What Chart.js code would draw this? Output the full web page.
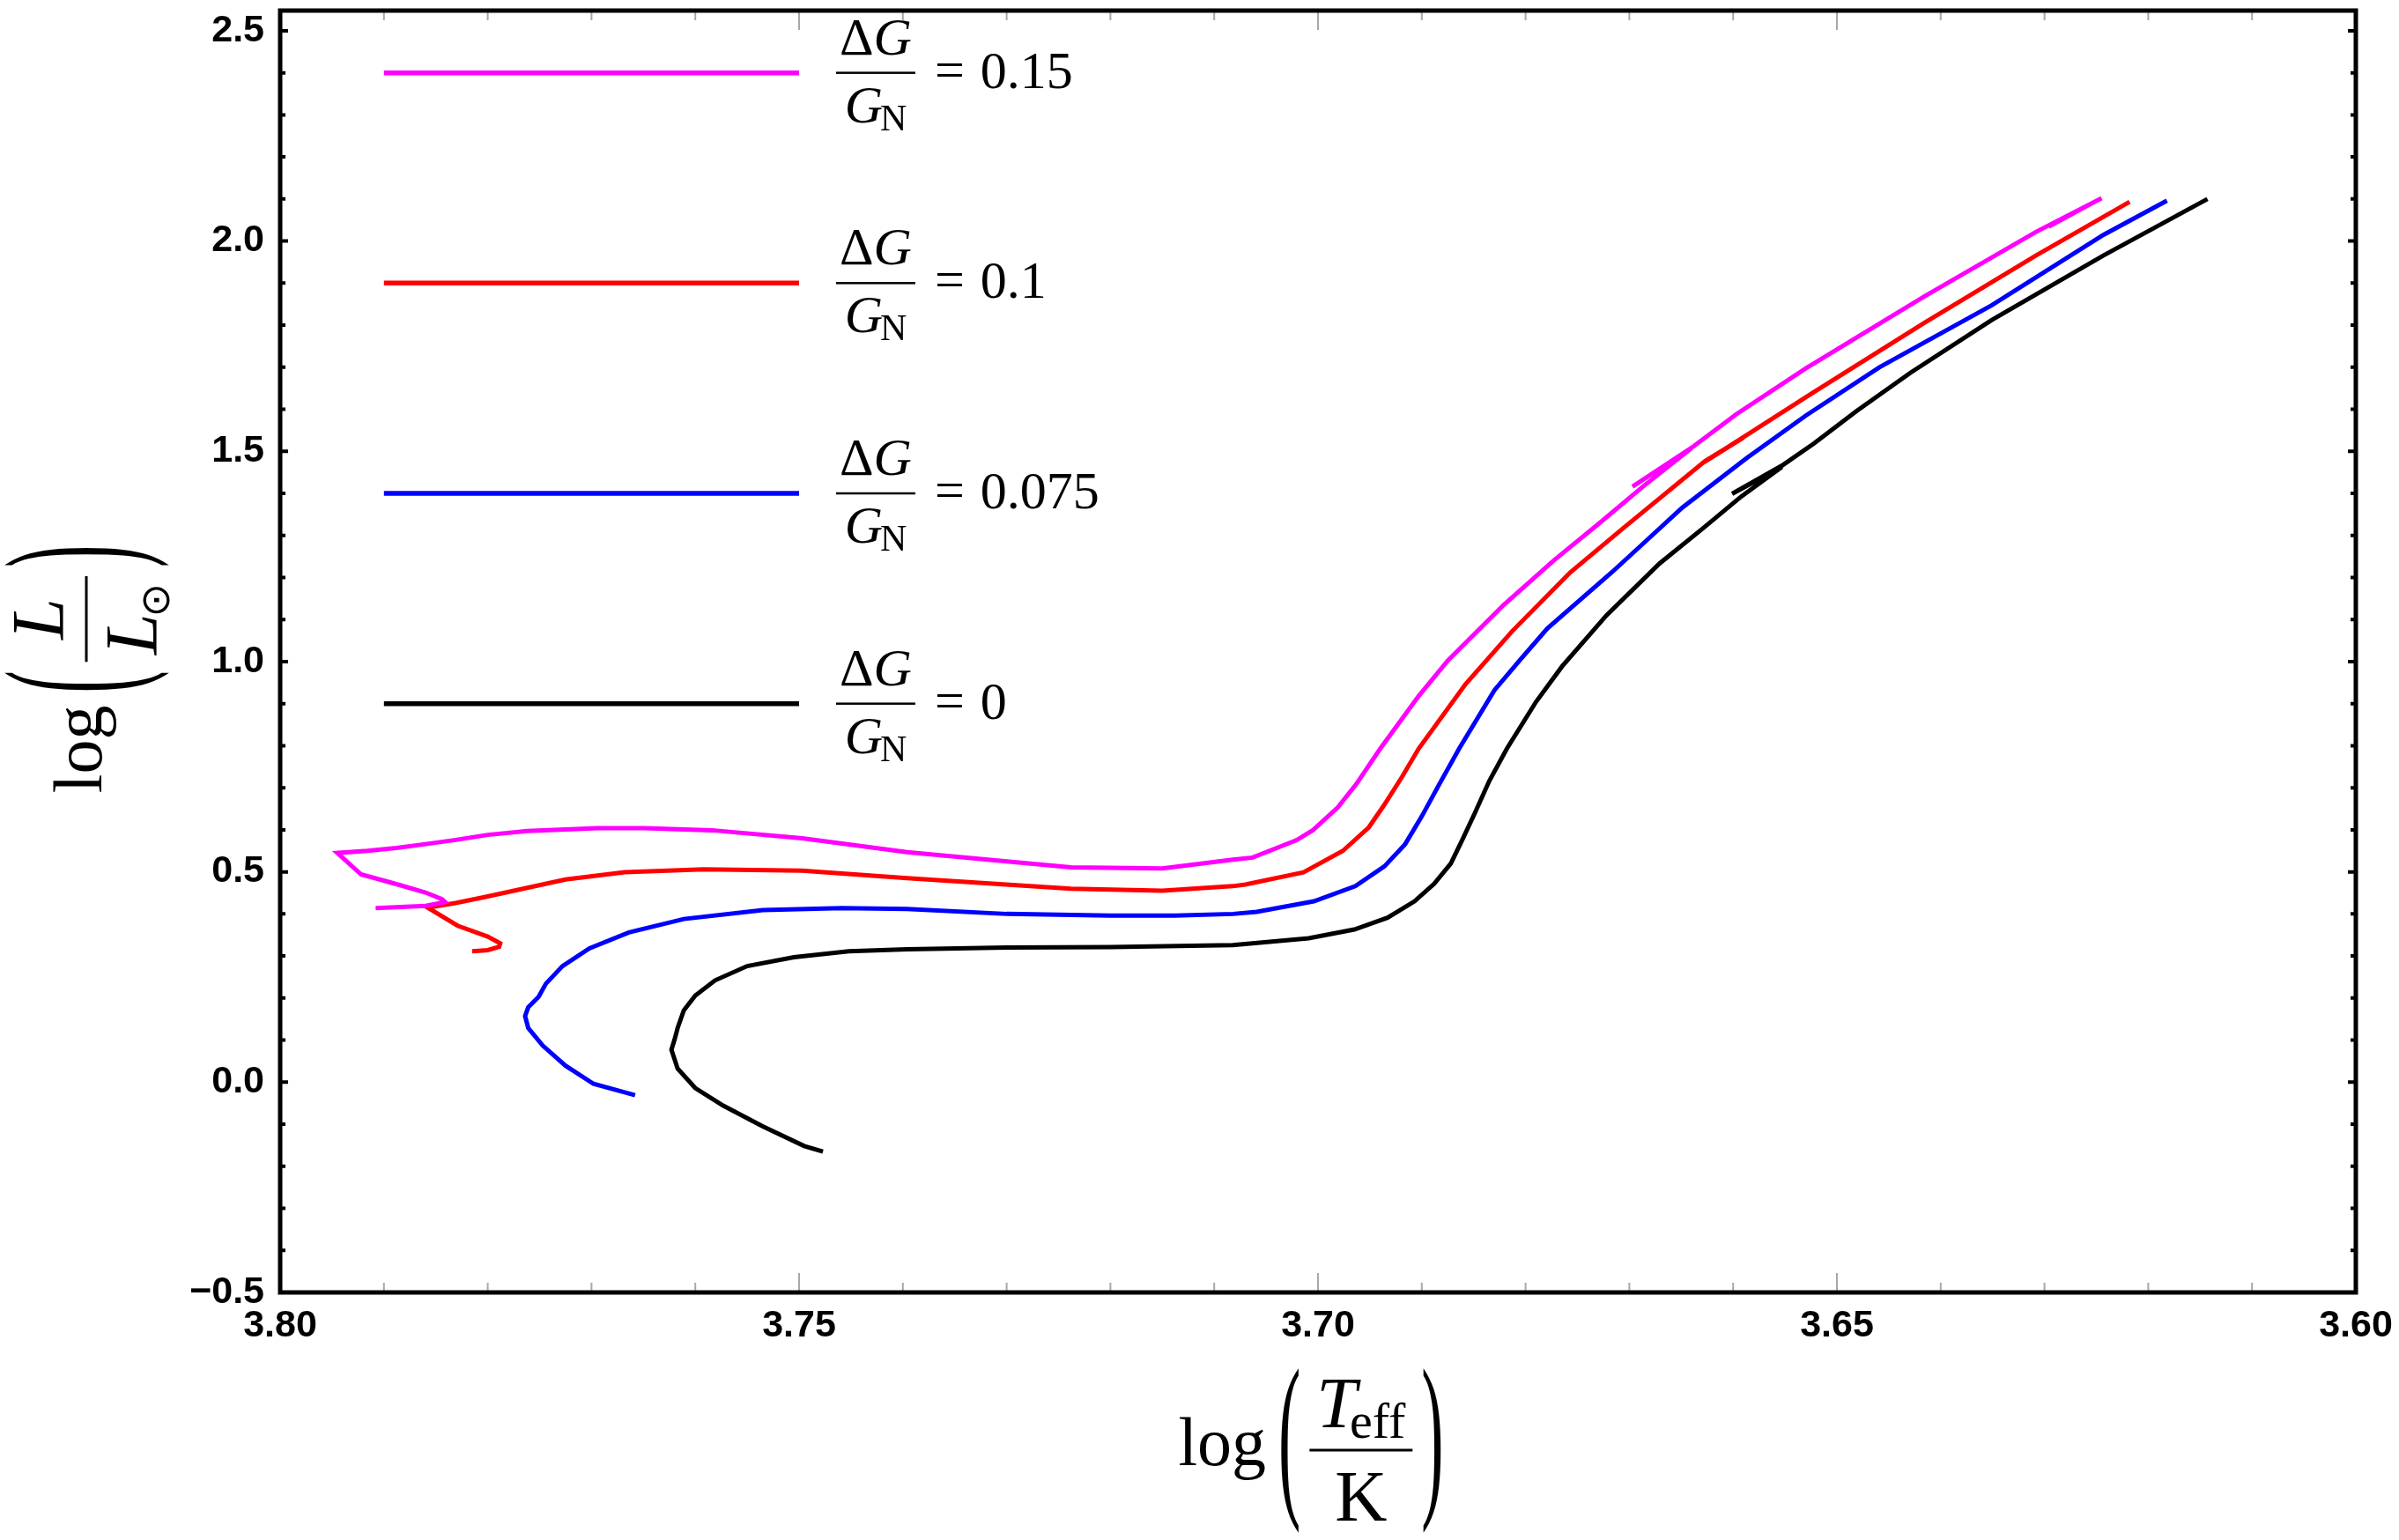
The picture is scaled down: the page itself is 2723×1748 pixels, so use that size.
<!DOCTYPE html>
<html>
<head>
<meta charset="utf-8">
<script src="https://cdn.jsdelivr.net/npm/chart.js@4.4.1/dist/chart.umd.min.js"></script>
<style>
  html, body { margin: 0; padding: 0; background: #fff; }
  canvas { display: block; }
</style>
</head>
<body>
<canvas id="hrChart" width="2723" height="1748"></canvas>
<script>
// tick labels
const xTicks = [3.80, 3.75, 3.70, 3.65, 3.60];
const yTicks = [-0.5, 0.0, 0.5, 1.0, 1.5, 2.0, 2.5];

// legend entries (dG/G_N) and colours, top to bottom
const dgLabels = ['0.15', '0.1', '0.075', '0'];
const dgColors = ['#ff00ff', '#ff0000', '#0000ff', '#000000'];

// dG/G_N = 0.15
const teff015 = [3.7908, 3.7860, 3.7841, 3.7844, 3.7860, 3.7888, 3.7922, 3.7945, 3.7916, 3.7888,
  3.7860, 3.7831, 3.7800, 3.7762, 3.7694, 3.7649, 3.7584, 3.7497, 3.7396, 3.7238,
  3.7150, 3.7082, 3.7063, 3.7021, 3.7005, 3.6981, 3.6963, 3.6940, 3.6903, 3.6875,
  3.6821, 3.6773, 3.6728, 3.6688, 3.6640, 3.6697, 3.6638, 3.6597, 3.6530,
  3.6416, 3.6308, 3.6245, 3.6296];
const lum015 = [0.414, 0.419, 0.428, 0.435, 0.451, 0.471, 0.494, 0.545, 0.550, 0.557,
  0.566, 0.576, 0.588, 0.597, 0.604, 0.604, 0.599, 0.580, 0.547, 0.511,
  0.508, 0.529, 0.534, 0.575, 0.599, 0.653, 0.709, 0.793, 0.918, 1.002,
  1.135, 1.240, 1.331, 1.414, 1.508, 1.416, 1.512, 1.588, 1.697,
  1.868, 2.022, 2.102, 2.034];

// dG/G_N = 0.1
const teff01 = [3.7815, 3.7800, 3.7789, 3.7788, 3.7800, 3.7829, 3.7858, 3.7831, 3.7803, 3.7725,
  3.7668, 3.7592, 3.7497, 3.7396, 3.7238, 3.7150, 3.7082, 3.7070, 3.7014, 3.6976,
  3.6951, 3.6936, 3.6919, 3.6903, 3.6858, 3.6813, 3.6757, 3.6706, 3.6627, 3.6590,
  3.6628, 3.6588, 3.6524, 3.6416, 3.6308, 3.6218];
const lum01 = [0.311, 0.314, 0.322, 0.330, 0.346, 0.372, 0.415, 0.426, 0.440, 0.482,
  0.499, 0.506, 0.503, 0.485, 0.460, 0.455, 0.466, 0.470, 0.499, 0.550,
  0.606, 0.660, 0.726, 0.793, 0.946, 1.072, 1.212, 1.317, 1.477, 1.533,
  1.474, 1.537, 1.638, 1.805, 1.966, 2.093];

// dG/G_N = 0.075
const teff0075 = [3.7658, 3.7698, 3.7725, 3.7747, 3.7761, 3.7764, 3.7761, 3.7751, 3.7744, 3.7728,
  3.7702, 3.7664, 3.7611, 3.7535, 3.7459, 3.7396, 3.7300, 3.7200, 3.7138, 3.7082,
  3.7059, 3.7004, 3.6964, 3.6936, 3.6916, 3.6900, 3.6883, 3.6864, 3.6830, 3.6805,
  3.6779, 3.6717, 3.6683, 3.6649, 3.6587, 3.6530, 3.6459, 3.6351, 3.6243, 3.6182];
const lum0075 = [-0.031, -0.004, 0.039, 0.087, 0.129, 0.157, 0.178, 0.203, 0.234, 0.276,
  0.318, 0.356, 0.388, 0.409, 0.414, 0.412, 0.400, 0.396, 0.396, 0.400,
  0.405, 0.430, 0.466, 0.513, 0.566, 0.632, 0.709, 0.793, 0.932, 1.005,
  1.079, 1.212, 1.289, 1.366, 1.484, 1.585, 1.700, 1.847, 2.015, 2.096];

// dG/G_N = 0
const teff0 = [3.7477, 3.7495, 3.7535, 3.7573, 3.7600, 3.7617, 3.7623, 3.7620, 3.7617, 3.7611,
  3.7600, 3.7581, 3.7550, 3.7505, 3.7452, 3.7396, 3.7300, 3.7200, 3.7082, 3.7009,
  3.6965, 3.6933, 3.6907, 3.6888, 3.6872, 3.6861, 3.6849, 3.6835, 3.6818, 3.6790,
  3.6765, 3.6722, 3.6671, 3.6629, 3.6592, 3.6553, 3.6601, 3.6553, 3.6522, 3.6481,
  3.6429, 3.6351, 3.6243, 3.6143];
const lum0 = [-0.165, -0.152, -0.105, -0.056, -0.014, 0.032, 0.077, 0.101, 0.129, 0.171,
  0.206, 0.242, 0.276, 0.297, 0.311, 0.316, 0.320, 0.321, 0.326, 0.342,
  0.363, 0.391, 0.430, 0.472, 0.520, 0.576, 0.639, 0.716, 0.793, 0.904,
  0.988, 1.110, 1.233, 1.317, 1.393, 1.463, 1.399, 1.466, 1.519, 1.596,
  1.687, 1.812, 1.966, 2.100];

const tracks = [[teff015, lum015], [teff01, lum01], [teff0075, lum0075], [teff0, lum0]];

const serif = '"Liberation Serif", "DejaVu Serif", serif';
const it = s => 'italic ' + s + 'px ' + serif;
const rm = s => s + 'px ' + serif;

function runsWidth(ctx, runs) {
    let w = 0;
    for (const r of runs) {
        ctx.font = r.font;
        w += ctx.measureText(r.t).width + (r.kern || 0);
    }
    return w;
}

function drawRuns(ctx, runs, x, y) {
    for (const r of runs) {
        ctx.font = r.font;
        ctx.fillText(r.t, x, y + (r.dy || 0));
        x += ctx.measureText(r.t).width + (r.kern || 0);
    }
    return x;
}

function fracWidth(ctx, num, den, pad) {
    return Math.max(runsWidth(ctx, num), runsWidth(ctx, den)) + 2 * pad;
}

function drawFraction(ctx, num, den, left, numBase, denBase, pad, barH) {
    const wn = runsWidth(ctx, num);
    const wd = runsWidth(ctx, den);
    const w = Math.max(wn, wd) + 2 * pad;
    ctx.fillRect(left, -barH / 2, w, barH);
    drawRuns(ctx, num, left + (w - wn) / 2, numBase);
    drawRuns(ctx, den, left + (w - wd) / 2, denBase);
    return w;
}

function drawParen(ctx, ch, x, scaleY) {
    ctx.save();
    ctx.font = rm(76);
    ctx.textBaseline = 'middle';
    ctx.translate(x, -4);
    ctx.scale(1, scaleY);
    ctx.fillText(ch, 0, 0);
    ctx.restore();
}

// log( num / den ) laid out around the fraction bar, centred on (cx, cy)
function drawLogTitle(ctx, cx, cy, angle, num, den) {
    ctx.save();
    ctx.translate(cx, cy);
    ctx.rotate(angle);
    ctx.fillStyle = '#000';
    ctx.textAlign = 'left';
    ctx.textBaseline = 'alphabetic';
    ctx.font = rm(78);
    const logW = ctx.measureText('log').width;
    ctx.font = rm(76);
    const parW = ctx.measureText('(').width;
    const fw = fracWidth(ctx, num, den, 8);
    const gapLog = 14, gapPar = 10;
    const total = logW + gapLog + parW + gapPar + fw + gapPar + parW;
    let x = -total / 2;
    ctx.font = rm(78);
    ctx.fillText('log', x, 17);
    x += logW + gapLog;
    drawParen(ctx, '(', x, 2.7);
    x += parW + gapPar;
    x += drawFraction(ctx, num, den, x, -26, 80, 8, 3);
    x += gapPar;
    drawParen(ctx, ')', x, 2.7);
    ctx.restore();
}

const decorations = {
    id: 'decorations',
    afterDatasetsDraw(chart) {
        const { ctx, chartArea: a, scales: { x, y } } = chart;
        ctx.save();
        // x ticks on bottom and top (inside the frame)
        ctx.strokeStyle = '#a8a8a8';
        ctx.lineWidth = 2;
        for (let i = 0; i <= 20; i++) {
            const px = x.getPixelForValue(3.60 + i / 100);
            const len = i % 5 === 0 ? 22 : 11;
            ctx.beginPath();
            ctx.moveTo(px, a.bottom);
            ctx.lineTo(px, a.bottom - len);
            ctx.moveTo(px, a.top);
            ctx.lineTo(px, a.top + len);
            ctx.stroke();
        }
        // y ticks on left and right
        ctx.strokeStyle = '#000';
        ctx.lineWidth = 4;
        for (let i = -5; i <= 25; i++) {
            const py = y.getPixelForValue(i / 10);
            const len = i % 5 === 0 ? 9 : 6;
            ctx.beginPath();
            ctx.moveTo(a.left, py);
            ctx.lineTo(a.left + len, py);
            ctx.moveTo(a.right, py);
            ctx.lineTo(a.right - len, py);
            ctx.stroke();
        }
        // frame
        ctx.lineWidth = 5;
        ctx.strokeRect(a.left, a.top, a.right - a.left, a.bottom - a.top);
        ctx.restore();
    },
    afterDraw(chart) {
        const { ctx, chartArea: a, scales: { x, y } } = chart;

        // legend: lines placed in data space, text to the right
        ctx.save();
        const legendY = [2.4, 1.9, 1.4, 0.9];
        const x0 = x.getPixelForValue(3.79);
        const x1 = x.getPixelForValue(3.75);
        dgLabels.forEach((lab, i) => {
            const py = y.getPixelForValue(legendY[i]);
            ctx.strokeStyle = dgColors[i];
            ctx.lineWidth = 5.5;
            ctx.beginPath();
            ctx.moveTo(x0, py);
            ctx.lineTo(x1, py);
            ctx.stroke();

            ctx.save();
            ctx.translate(x1 + 42, py);
            ctx.fillStyle = '#000';
            ctx.textAlign = 'left';
            ctx.textBaseline = 'alphabetic';
            const num = [{ t: '\u0394', font: rm(60) }, { t: 'G', font: it(60) }];
            const den = [{ t: 'G', font: it(60), kern: -3 }, { t: 'N', font: rm(42), dy: 9 }];
            const w = drawFraction(ctx, num, den, 0, -21, 56, 4, 2.5);
            ctx.font = rm(60);
            ctx.fillText('=', w + 22, 16);
            const eqW = ctx.measureText('=').width;
            ctx.fillText(lab, w + 22 + eqW + 18, 17);
            ctx.restore();
        });
        ctx.restore();

        // axis titles
        const midX = (a.left + a.right) / 2;
        const midY = (a.top + a.bottom) / 2;
        drawLogTitle(ctx, midX - 8, a.bottom + 179, 0,
            [{ t: 'T', font: it(82), kern: -8 }, { t: 'eff', font: rm(58), dy: 12 }],
            [{ t: 'K', font: rm(82) }]);
        drawLogTitle(ctx, 98, midY + 20, -Math.PI / 2,
            [{ t: 'L', font: it(84) }],
            [{ t: 'L', font: it(84), kern: -4 }, { t: '\u2299', font: '46px "DejaVu Sans", sans-serif', dy: 14 }]);
    }
};

const ctx = document.getElementById('hrChart').getContext('2d');

new Chart(ctx, {
    type: 'scatter',
    data: {
        datasets: tracks.map(([tx, ly], i) => ({
            label: dgLabels[i],
            data: tx.map((v, k) => ({ x: v, y: ly[k] })),
            showLine: true,
            borderColor: dgColors[i],
            backgroundColor: dgColors[i],
            borderWidth: 5,
            pointRadius: 0,
            tension: 0,
        }))
    },
    options: {
        responsive: false,
        devicePixelRatio: 1,
        animation: false,
        layout: { padding: { top: 12, right: 49, left: 0, bottom: 0 } },
        plugins: {
            legend: { display: false },
            tooltip: { enabled: false },
        },
        scales: {
            x: {
                type: 'linear',
                reverse: true,
                min: 3.60,
                max: 3.80,
                afterBuildTicks: s => { s.ticks = xTicks.map(v => ({ value: v })); },
                afterFit: s => { s.height = 281; s.paddingLeft = 0; s.paddingRight = 0; },
                grid: { display: false, drawTicks: false },
                border: { display: false },
                ticks: {
                    color: '#000',
                    font: { family: '"Liberation Sans", Arial, sans-serif', size: 43, weight: 'bold' },
                    padding: 12,
                    maxRotation: 0,
                    autoSkip: false,
                    callback: v => v.toFixed(2),
                },
            },
            y: {
                type: 'linear',
                min: -0.5,
                max: 2.548,
                afterBuildTicks: s => { s.ticks = yTicks.map(v => ({ value: v })); },
                afterFit: s => { s.width = 318; s.paddingTop = 0; s.paddingBottom = 0; },
                grid: { display: false, drawTicks: false },
                border: { display: false },
                ticks: {
                    color: '#000',
                    font: { family: '"Liberation Sans", Arial, sans-serif', size: 43, weight: 'bold' },
                    padding: 18,
                    autoSkip: false,
                    callback: v => (v < 0 ? '\u2212' + Math.abs(v).toFixed(1) : v.toFixed(1)),
                },
            },
        },
    },
    plugins: [decorations],
});
</script>
</body>
</html>
